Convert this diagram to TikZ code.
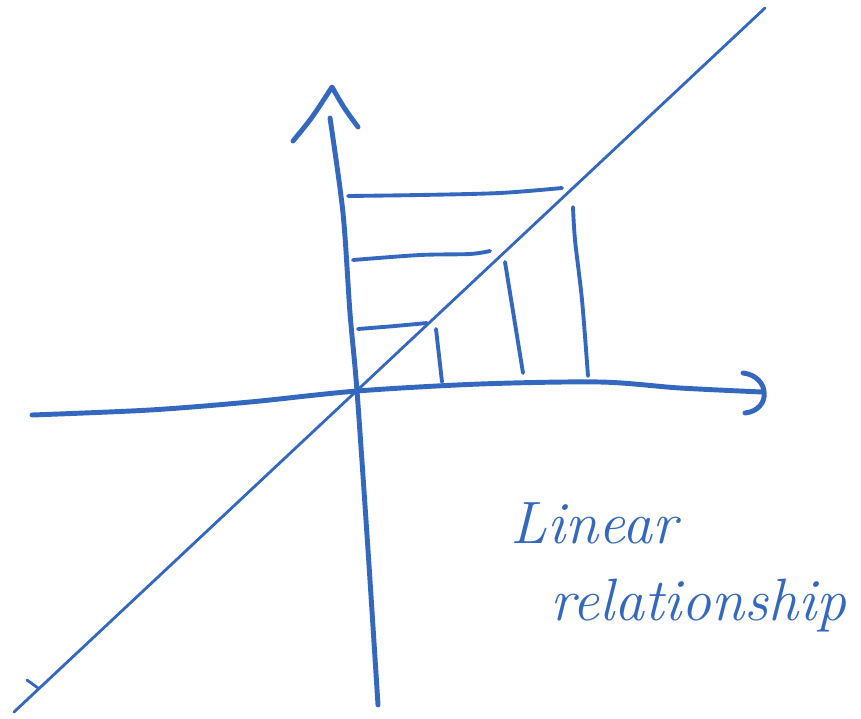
\documentclass[tikz,border=0pt]{standalone}
\usepackage{tikz}
\usetikzlibrary{positioning}
\definecolor{ink}{RGB}{52,104,190}

\begin{document}
\begin{tikzpicture}[
        x=0.01cm, y=-0.01cm,
        axis/.style={draw=ink, line width=1.4pt, line cap=round, line join=round},
        diag/.style={draw=ink, line width=0.8pt, line cap=round},
        guide/.style={draw=ink, line width=1.1pt, line cap=round},
        hand/.style={text=ink, font=\fontsize{17}{20}\selectfont\itshape, inner sep=0pt}
    ]
        \useasboundingbox (0,0) rectangle (861,718);
        % origin and ends of the straight line
        \coordinate (O)  at (357,391);
        \coordinate (d1) at (14,712);
        \coordinate (d2) at (765,8);
        % horizontal axis with its round tip
        \draw[axis] plot[smooth] coordinates {(32,415) (150,410) (250,402) (O) (480,384) (600,382) (680,388) (762,392)};
        \draw[axis] (743,373) .. controls (770,376) and (772,410) .. (745,413);
        % vertical axis with its tip
        \draw[axis] plot[smooth] coordinates {(330,118) (343,213) (350,313) (O) (368,550) (378,705)};
        \draw[axis] (293,141) .. controls (312,118) .. (332,87) .. controls (344,108) .. (358,127);
        % the linear relationship
        \draw[diag] (d1) -- (d2);
        \draw[diag] (27,680) -- (38,688);
        % readings on the y axis
        \draw[guide] plot[smooth] coordinates {(348,196) (420,195) (500,193) (562,188)};
        \draw[guide] plot[smooth] coordinates {(353,260) (420,255) (470,254) (490,251)};
        \draw[guide] plot[smooth] coordinates {(358,329) (395,326) (427,323)};
        % readings on the x axis
        \draw[guide] (436,329) -- (442,382);
        \draw[guide] (505,262) -- (523,373);
        \draw[guide] plot[smooth] coordinates {(573,207) (575,240) (582,300) (588,376)};
        % label
        \node[hand, anchor=base west] (lin) at (510,543) {Linear};
        \node[hand, anchor=base west] (rel) at (550,620) {relationship};
    \end{tikzpicture}
\end{document}
